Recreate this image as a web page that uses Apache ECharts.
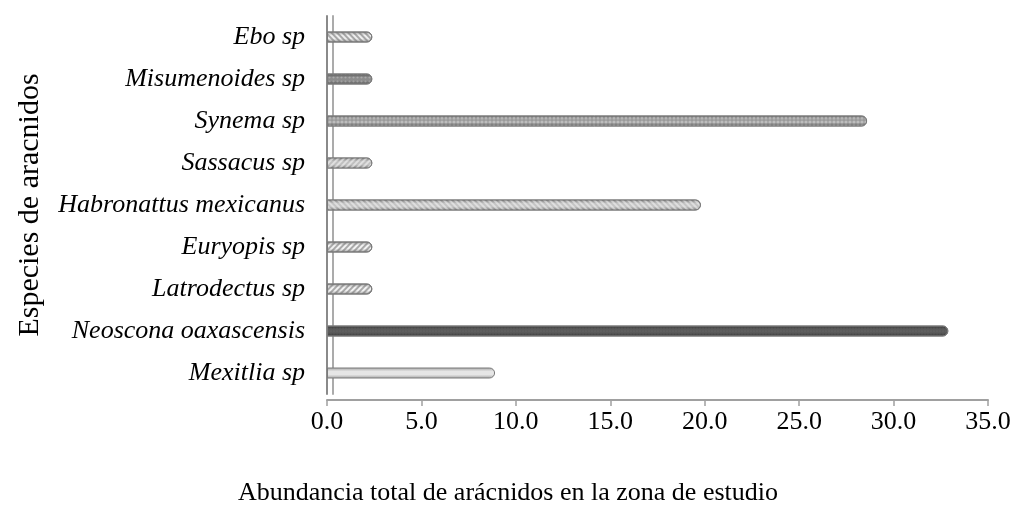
<!DOCTYPE html>
<html>
<head>
<meta charset="utf-8">
<script src="https://cdn.jsdelivr.net/npm/echarts@6/dist/echarts.min.js"></script>
<style>
  html, body { margin: 0; padding: 0; background: #fff; }
  #chart { width: 1016px; height: 506px; }
</style>
</head>
<body>
<div id="chart"></div>
<script>
// especies (de abajo hacia arriba)
const especies = ['Mexitlia sp', 'Neoscona oaxascensis', 'Latrodectus sp', 'Euryopis sp',
  'Habronattus mexicanus', 'Sassacus sp', 'Synema sp', 'Misumenoides sp', 'Ebo sp'];
// abundancia (%)
const abundancia = [8.9, 32.9, 2.4, 2.4, 19.8, 2.4, 28.6, 2.4, 2.4];
const xTicks = [0, 5, 10, 15, 20, 25, 30, 35];

// relleno de cada barra: color base y patrón
const barStyles = [
  { base: '#e6e6e6', dark: '#a0a0a0', decal: null },
  { base: '#5a5a5a', dark: '#333333', decal: { symbol: 'circle', symbolSize: 0.5, dashArrayX: [2, 1], dashArrayY: [2, 1], color: 'rgba(255,255,255,0.15)' } },
  { base: '#f2f2f2', dark: '#9a9a9a', decal: { symbol: 'rect', dashArrayX: [1, 0], dashArrayY: [2, 2], rotation: -0.8, color: 'rgba(110,110,110,0.55)' } },
  { base: '#f2f2f2', dark: '#9a9a9a', decal: { symbol: 'rect', dashArrayX: [1, 0], dashArrayY: [2, 2], rotation: -0.8, color: 'rgba(110,110,110,0.55)' } },
  { base: '#c4c4c4', dark: '#7a7a7a', decal: { symbol: 'rect', dashArrayX: [1, 0], dashArrayY: [2, 2], rotation: 0.8, color: 'rgba(255,255,255,0.45)' } },
  { base: '#c0c0c0', dark: '#7a7a7a', decal: { symbol: 'rect', dashArrayX: [1, 0], dashArrayY: [2, 2], rotation: -0.8, color: 'rgba(255,255,255,0.5)' } },
  { base: '#9a9a9a', dark: '#666666', decal: { symbol: 'circle', symbolSize: 0.8, dashArrayX: [4, 0], dashArrayY: [4, 0], color: 'rgba(255,255,255,0.35)' } },
  { base: '#8c8c8c', dark: '#555555', decal: { symbol: 'circle', symbolSize: 0.7, dashArrayX: [3, 1], dashArrayY: [3, 1], color: 'rgba(255,255,255,0.25)' } },
  { base: '#eeeeee', dark: '#9a9a9a', decal: { symbol: 'rect', dashArrayX: [1, 0], dashArrayY: [2, 2], rotation: 0.8, color: 'rgba(110,110,110,0.55)' } },
];

function cylinder(base, dark) {
  return new echarts.graphic.LinearGradient(0, 0, 0, 1, [
    { offset: 0, color: dark },
    { offset: 0.35, color: base },
    { offset: 0.65, color: base },
    { offset: 1, color: dark },
  ]);
}

const barData = abundancia.map((v, i) => {
  const s = barStyles[i];
  const itemStyle = {
    color: cylinder(s.base, s.dark),
    borderColor: '#7a7a7a',
    borderWidth: 1,
    borderRadius: [0, 5, 5, 0],
  };
  if (s.decal) itemStyle.decal = s.decal;
  return { value: v, itemStyle };
});

const chart = echarts.init(document.getElementById('chart'), null, { renderer: 'canvas' });
chart.setOption({
  animation: false,
  backgroundColor: '#fff',
  textStyle: { fontFamily: 'Liberation Serif' },
  title: {
    text: 'Abundancia total de arácnidos en la zona de estudio',
    left: 'center',
    top: 475,
    textStyle: { fontSize: 26, fontWeight: 'normal', color: '#000', fontFamily: 'Liberation Serif' },
  },
  grid: { left: 327, right: 28, top: 16, height: 378 },
  xAxis: {
    type: 'value',
    min: 0,
    max: 35,
    interval: 5,
    offset: 6,
    axisLine: { show: true, lineStyle: { color: '#a0a0a0', width: 2 } },
    axisTick: { show: true, length: 6, lineStyle: { color: '#a0a0a0', width: 1.5 } },
    axisLabel: {
      fontSize: 26, color: '#000', margin: 9, fontFamily: 'Liberation Serif',
      formatter: (v) => (xTicks.includes(v) ? v.toFixed(1) : ''),
    },
    splitLine: { show: false },
  },
  yAxis: [
    {
      type: 'category',
      data: especies,
      offset: 4,
      name: 'Especies de aracnidos',
      nameLocation: 'middle',
      nameGap: 278,
      nameRotate: 90,
      nameTextStyle: { fontSize: 30, color: '#000', fontFamily: 'Liberation Serif' },
      axisLine: { show: true, lineStyle: { color: '#8a8a8a', width: 2 } },
      axisTick: { show: false },
      axisLabel: { fontSize: 26, fontStyle: 'italic', color: '#000', margin: 18, fontFamily: 'Liberation Serif' },
    },
    {
      type: 'category',
      data: especies,
      position: 'left',
      offset: -6,
      axisLine: { show: true, lineStyle: { color: '#ababab', width: 2 } },
      axisTick: { show: false },
      axisLabel: { show: false },
    },
  ],
  series: [{
    type: 'bar',
    yAxisIndex: 0,
    data: barData,
    barWidth: 11,
    z: 5,
  }],
});
</script>
</body>
</html>
